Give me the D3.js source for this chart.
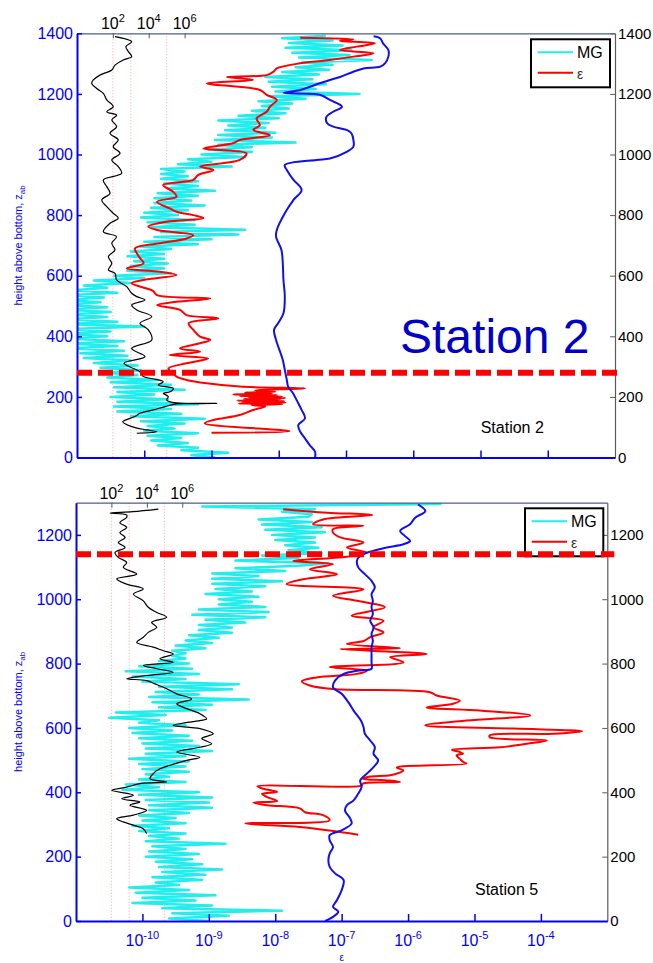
<!DOCTYPE html>
<html>
<head>
<meta charset="utf-8">
<script src="https://cdn.jsdelivr.net/npm/d3@7"></script>
<style>
  body { margin: 0; background: #fff; }
  svg { display: block; font-family: Arial, "Liberation Sans", sans-serif; }
</style>
</head>
<body>
<svg id="chart" width="653" height="963"></svg>
<script>
// ---------------------------------------------------------------
// Profiles against height above bottom (m). Dissipation-type series
// are stored as log10 of the value; the ratio series as log10 too.
// ---------------------------------------------------------------

// Axis settings
const epsDomain = [1e-11, 1e-3];          // bottom axis (epsilon)
const ratioDomain = [1e0, 1e30];          // top axis (black profile)
const epsTickExp = [-10, -9, -8, -7, -6, -5, -4];
const ratioTickExp = [2, 4, 6];
const refLevels = [1e2, 1e3, 1e5];        // dotted reference levels on top axis
const st2HeightTicks = [0, 200, 400, 600, 800, 1000, 1200, 1400];
const st5HeightTicks = [0, 200, 400, 600, 800, 1000, 1200];
const boundaryHeights = [280, 1140];      // dashed marker height per station
const seriesNames = ["MG", "\u03b5"];

// ---------------- Station 2 ----------------
const st2Mg = [
[0,-8.95],[8,-9.30],[16,-8.75],[24,-9.45],[32,-9.20],[40,-9.80],[48,-9.35],[56,-9.90],[64,-9.45],[72,-9.95],
[80,-9.20],[88,-10.00],[96,-9.55],[104,-9.95],[112,-9.40],[120,-10.05],[128,-9.10],[136,-10.20],[144,-9.45],[152,-10.40],
[160,-9.60],[168,-10.45],[176,-9.20],[184,-10.40],[192,-9.65],[200,-10.50],[208,-9.85],[216,-10.40],[224,-9.40],[232,-10.45],
[240,-9.60],[248,-10.50],[256,-9.80],[264,-10.55],[272,-10.10],[280,-10.60],[288,-10.05],[296,-10.65],[304,-10.10],[312,-10.75],
[320,-10.20],[328,-10.90],[336,-10.25],[344,-10.95],[352,-10.30],[360,-11.10],[368,-10.40],[376,-11.15],[384,-10.30],[392,-11.10],
[400,-10.55],[408,-11.20],[416,-10.50],[424,-11.10],[432,-10.00],[440,-11.20],[448,-10.40],[456,-11.15],[464,-10.55],[472,-11.10],
[480,-10.50],[488,-11.20],[496,-10.55],[504,-11.15],[512,-10.65],[520,-11.20],[528,-10.60],[536,-11.10],[544,-10.40],[552,-11.05],
[560,-10.55],[568,-10.90],[576,-10.20],[584,-10.75],[592,-10.00],[600,-10.45],[608,-9.60],[616,-10.25],[624,-9.70],[632,-10.20],
[640,-9.65],[648,-10.15],[656,-9.70],[664,-10.25],[672,-9.70],[680,-10.20],[688,-9.60],[696,-10.05],[704,-9.20],[712,-10.00],
[720,-9.00],[728,-9.85],[736,-8.60],[744,-9.75],[752,-8.50],[760,-9.90],[768,-9.25],[776,-9.95],[784,-9.25],[792,-10.05],
[800,-9.50],[808,-10.00],[816,-9.35],[824,-9.90],[832,-9.10],[840,-9.85],[848,-9.30],[856,-9.85],[864,-9.20],[872,-9.80],
[880,-8.95],[888,-9.65],[896,-9.20],[904,-9.70],[912,-9.20],[920,-9.75],[928,-9.35],[936,-9.75],[944,-9.40],[952,-9.75],
[960,-8.70],[968,-9.50],[976,-9.00],[984,-9.35],[992,-8.50],[1000,-9.15],[1008,-8.40],[1016,-9.05],[1024,-8.40],[1032,-8.90],
[1040,-7.75],[1048,-8.95],[1056,-8.10],[1064,-8.90],[1072,-8.05],[1080,-8.80],[1088,-8.20],[1096,-8.75],[1104,-8.15],[1112,-8.90],
[1120,-8.00],[1128,-8.60],[1136,-7.90],[1144,-8.40],[1152,-7.85],[1160,-8.25],[1168,-7.80],[1176,-8.30],[1184,-7.60],[1192,-8.15],
[1200,-6.80],[1208,-8.05],[1216,-7.45],[1224,-8.10],[1232,-7.30],[1240,-8.15],[1248,-7.50],[1256,-8.20],[1264,-7.40],[1272,-7.95],
[1280,-7.25],[1288,-7.75],[1296,-7.20],[1304,-7.65],[1312,-6.62],[1320,-7.70],[1328,-6.95],[1336,-7.80],[1344,-6.92],[1352,-7.90],
[1360,-7.05],[1368,-7.85],[1376,-7.20],[1384,-7.95],[1392,-7.30]
];

const st2Eps = [
[82,-9.00],[87,-7.84],[113,-9.10],[124,-8.97],[140,-8.58],[157,-8.38],[168,-8.20],[173,-8.40],[176,-7.95],[178,-8.60],
[181,-7.90],[183,-8.55],[186,-7.92],[188,-8.62],[191,-7.98],[193,-8.52],[196,-7.90],[198,-8.45],[201,-7.95],[203,-8.58],
[206,-8.02],[208,-8.68],[211,-8.10],[214,-8.50],[217,-8.05],[221,-8.35],[225,-8.00],[228,-7.61],[234,-8.58],[245,-9.07],
[256,-9.37],[267,-9.52],[278,-9.57],[294,-9.64],[311,-9.37],[327,-9.05],[338,-9.62],[349,-9.17],[360,-9.47],[377,-9.17],
[388,-9.02],[399,-9.17],[421,-9.27],[443,-9.34],[459,-8.90],[470,-9.37],[487,-9.47],[503,-9.81],[514,-9.52],[525,-9.02],
[536,-9.81],[550,-9.87],[575,-10.19],[586,-10.01],[602,-9.52],[613,-9.77],[624,-10.26],[641,-10.01],[657,-10.06],[674,-10.11],
[690,-10.14],[707,-9.77],[723,-9.37],[734,-9.27],[751,-9.81],[762,-9.94],[778,-9.67],[790,-9.12],[800,-9.27],[811,-9.52],
[822,-9.62],[844,-9.81],[861,-9.52],[877,-9.57],[899,-9.72],[916,-9.27],[932,-9.20],[949,-8.97],[960,-9.17],[982,-8.58],
[1004,-8.48],[1020,-9.12],[1037,-8.68],[1048,-8.58],[1064,-8.13],[1081,-8.38],[1097,-8.28],[1119,-8.33],[1141,-8.18],[1158,-8.13],
[1180,-8.03],[1197,-8.18],[1213,-8.28],[1235,-9.07],[1246,-8.38],[1256,-8.77],[1262,-8.18],[1273,-8.08],[1284,-8.03],[1301,-7.68],
[1312,-7.24],[1323,-6.89],[1334,-6.59],[1345,-7.09],[1356,-6.84],[1367,-6.57],[1375,-7.09],[1380,-6.89],[1385,-7.68]
];

const st2Blue = [
[0,-7.46],[19,-7.46],[41,-7.54],[63,-7.61],[85,-7.68],[107,-7.71],[129,-7.61],[157,-7.66],[179,-7.71],[213,-7.79],
[234,-7.86],[256,-7.88],[289,-7.91],[322,-7.94],[388,-8.04],[421,-8.07],[443,-8.01],[476,-7.93],[531,-7.91],[586,-7.93],
[641,-7.94],[685,-7.96],[729,-8.04],[750,-8.03],[806,-7.91],[850,-7.78],[883,-7.66],[916,-7.78],[949,-7.88],[965,-7.91],
[982,-7.44],[987,-7.24],[1009,-6.99],[1026,-6.89],[1048,-6.89],[1070,-6.92],[1081,-6.99],[1092,-7.19],[1103,-7.28],[1125,-7.29],
[1141,-7.19],[1158,-7.06],[1180,-7.24],[1197,-7.39],[1203,-7.93],[1213,-7.68],[1235,-7.39],[1246,-7.24],[1256,-7.09],[1273,-6.89],
[1284,-6.74],[1290,-6.49],[1301,-6.42],[1323,-6.37],[1345,-6.37],[1367,-6.45],[1383,-6.49],[1390,-6.59]
];

const st2Ratio = [
[80,3.33],[85,4.45],[91,3.89],[102,3.05],[118,2.55],[135,3.23],[146,3.51],[157,4.26],[168,4.91],[177,5.55],
[178.5,7.79],[180,5.50],[190,5.00],[201,5.09],[212,4.81],[217,5.19],[228,5.37],[239,4.53],[250,4.81],[258,4.40],
[267,3.70],[283,3.51],[294,3.14],[311,2.62],[333,3.79],[360,3.05],[388,4.17],[421,3.98],[443,3.51],[465,4.17],
[487,3.33],[503,3.05],[520,3.79],[531,3.33],[542,3.05],[564,2.77],[586,2.21],[608,2.12],[619,1.75],[641,1.94],
[663,1.75],[685,2.12],[707,1.94],[729,2.20],[745,1.47],[773,1.84],[790,2.30],[806,2.02],[828,1.66],[850,1.38],
[872,1.84],[894,1.66],[916,1.47],[938,2.49],[960,2.30],[982,1.94],[1004,2.40],[1026,2.02],[1048,2.30],[1070,1.84],
[1092,2.21],[1114,1.94],[1130,2.21],[1141,1.66],[1158,2.02],[1180,1.66],[1202,1.47],[1218,1.10],[1235,0.82],[1246,0.91],
[1262,1.28],[1279,1.94],[1295,2.12],[1312,2.58],[1323,3.05],[1340,2.86],[1356,2.73],[1372,3.05],[1389,2.12]
];

// ---------------- Station 5 ----------------
const st5Mg = [
[0,-9.00],[8,-9.60],[16,-8.70],[24,-9.55],[32,-7.90],[40,-9.70],[48,-8.95],[56,-10.15],[64,-9.20],[72,-10.00],
[80,-8.90],[88,-10.10],[96,-9.30],[104,-10.20],[112,-9.45],[120,-9.80],[128,-9.10],[136,-9.85],[144,-9.05],[152,-9.70],
[160,-8.80],[168,-9.75],[176,-9.10],[184,-9.80],[192,-9.25],[200,-9.95],[208,-9.15],[216,-9.90],[224,-9.35],[232,-9.85],
[240,-8.75],[248,-9.95],[256,-9.45],[264,-9.90],[272,-9.35],[280,-10.05],[288,-9.60],[296,-10.15],[304,-9.35],[312,-10.00],
[320,-9.50],[328,-10.05],[336,-9.30],[344,-9.90],[352,-8.95],[360,-9.90],[368,-9.00],[376,-9.95],[384,-8.95],[392,-10.05],
[400,-9.15],[408,-10.30],[416,-9.75],[424,-10.25],[432,-9.35],[440,-10.05],[448,-9.60],[456,-9.95],[464,-9.30],[472,-10.00],
[480,-9.35],[488,-10.05],[496,-9.30],[504,-10.20],[512,-9.35],[520,-9.95],[528,-8.95],[536,-9.95],[544,-9.15],[552,-10.00],
[560,-9.25],[568,-10.05],[576,-9.30],[584,-10.15],[592,-9.55],[600,-10.20],[608,-9.35],[616,-10.05],[624,-9.75],[632,-10.50],
[640,-9.65],[648,-10.40],[656,-9.05],[664,-9.75],[672,-8.95],[680,-9.85],[688,-8.40],[696,-9.90],[704,-9.15],[712,-9.80],
[720,-8.65],[728,-9.75],[736,-8.55],[744,-10.00],[752,-9.35],[760,-10.15],[768,-9.15],[776,-10.25],[784,-9.25],[792,-10.05],
[800,-9.30],[808,-9.75],[816,-9.35],[824,-9.55],[832,-9.35],[840,-9.55],[848,-9.05],[856,-9.50],[864,-8.95],[872,-9.35],
[880,-8.85],[888,-9.30],[896,-8.65],[904,-9.15],[912,-8.65],[920,-9.15],[928,-8.45],[936,-9.05],[944,-8.15],[952,-9.25],
[960,-8.10],[968,-9.15],[976,-8.15],[984,-8.85],[992,-8.35],[1000,-8.85],[1008,-8.25],[1016,-9.05],[1024,-8.35],[1032,-8.90],
[1040,-8.15],[1048,-8.95],[1056,-7.90],[1064,-8.95],[1072,-8.25],[1080,-8.95],[1088,-7.85],[1096,-8.60],[1104,-7.65],[1112,-7.20],
[1120,-8.60],[1128,-7.65],[1136,-8.20],[1144,-7.30],[1152,-7.80],[1160,-7.35],[1168,-7.85],[1176,-7.40],[1184,-8.00],[1192,-7.40],
[1200,-8.05],[1208,-7.25],[1216,-8.15],[1224,-7.30],[1232,-8.20],[1240,-7.45],[1248,-8.25],[1256,-7.50],[1264,-7.45],[1272,-7.90],
[1280,-7.40],[1288,-9.10],[1296,-5.50]
];

const st5Eps = [
[268,-6.75],[281,-7.18],[292,-7.63],[303,-8.45],[313,-7.18],[329,-7.28],[338,-7.55],[350,-7.63],[360,-8.12],[368,-8.33],
[373,-7.97],[385,-8.12],[395,-8.20],[401,-7.97],[411,-8.18],[419,-8.27],[421,-6.70],[427,-6.68],[432,-6.12],[437,-6.32],
[442,-6.68],[447,-6.62],[453,-6.27],[458,-6.17],[468,-6.07],[477,-6.17],[489,-5.12],[494,-5.17],[504,-5.22],[515,-5.27],
[520,-5.17],[525,-5.22],[532,-5.34],[540,-4.61],[551,-4.21],[561,-3.91],[571,-4.77],[577,-4.77],[582,-3.81],[590,-3.38],
[598,-4.41],[608,-5.74],[623,-5.12],[639,-4.16],[654,-4.92],[664,-5.72],[675,-5.32],[685,-5.22],[701,-5.57],[711,-5.67],
[721,-7.13],[732,-7.48],[745,-7.60],[757,-7.38],[768,-6.77],[778,-6.62],[789,-7.18],[804,-6.07],[820,-6.27],[830,-5.72],
[845,-7.02],[848,-6.12],[861,-6.92],[870,-6.67],[882,-6.57],[897,-6.37],[913,-6.52],[933,-6.37],[949,-6.85],[975,-6.35],
[995,-6.77],[1011,-7.13],[1031,-6.67],[1047,-7.83],[1062,-7.58],[1078,-7.07],[1093,-7.48],[1109,-7.13],[1119,-7.73],[1132,-6.92],
[1145,-6.62],[1161,-6.92],[1176,-6.67],[1192,-7.02],[1207,-7.13],[1218,-7.13],[1228,-6.67],[1233,-7.43],[1248,-7.28],[1262,-6.54],
[1269,-7.22],[1280,-7.88]
];

const st5Blue = [
[0,-7.25],[13,-7.13],[29,-7.05],[44,-7.13],[65,-7.07],[96,-7.00],[127,-6.97],[148,-7.10],[168,-7.18],[189,-7.20],
[210,-7.18],[230,-7.13],[251,-7.18],[267,-7.18],[282,-7.00],[303,-6.85],[318,-6.87],[344,-6.95],[360,-6.92],[375,-6.82],
[396,-6.75],[416,-6.70],[437,-6.72],[458,-6.62],[478,-6.52],[499,-6.45],[520,-6.52],[540,-6.50],[561,-6.57],[582,-6.65],
[602,-6.67],[623,-6.71],[654,-6.82],[680,-6.90],[706,-7.00],[726,-7.13],[747,-7.10],[768,-6.97],[778,-6.77],[784,-6.55],
[804,-6.55],[830,-6.55],[851,-6.55],[871,-6.53],[892,-6.55],[913,-6.52],[933,-6.57],[954,-6.53],[975,-6.55],[995,-6.53],
[1016,-6.55],[1037,-6.50],[1057,-6.55],[1078,-6.65],[1099,-6.75],[1119,-6.77],[1135,-6.72],[1148,-6.57],[1161,-6.32],[1171,-6.07],
[1181,-5.97],[1197,-6.05],[1212,-6.12],[1233,-5.97],[1254,-5.89],[1274,-5.74],[1295,-5.85]
];

const st5Ratio = [
[272,3.99],[287,3.80],[298,3.24],[308,2.67],[318,2.30],[329,3.24],[344,3.99],[360,3.05],[370,3.61],[380,2.58],
[391,3.24],[406,2.02],[416,2.86],[427,3.61],[432,5.12],[442,4.18],[458,4.36],[473,4.74],[484,5.31],[499,6.25],
[509,7.00],[525,5.69],[540,7.00],[551,7.66],[567,7.10],[582,7.75],[598,7.00],[608,5.49],[623,7.00],[628,7.38],
[644,7.00],[664,6.06],[675,5.69],[690,6.53],[706,5.69],[722,5.12],[737,4.46],[747,3.99],[753,2.86],[763,3.99],
[773,5.49],[784,4.56],[794,3.80],[804,5.49],[815,4.74],[830,5.49],[840,4.93],[851,4.36],[866,3.43],[882,3.80],
[897,4.08],[913,4.56],[928,4.27],[944,5.12],[959,4.56],[975,4.08],[995,3.80],[1016,3.24],[1032,3.80],[1047,2.86],
[1063,2.30],[1078,3.43],[1099,2.67],[1114,2.86],[1130,2.39],[1145,2.20],[1161,2.77],[1176,2.39],[1192,2.77],[1207,2.48],
[1223,2.86],[1238,2.48],[1254,2.86],[1262,2.86],[1268,1.92],[1272,3.20],[1280,4.65]
];

// ---------------------------------------------------------------
const svg = d3.select("#chart");
const AXIS_BLUE = "#0000ff";
const MG_COLOR = "#22eeee";
const EPS_COLOR = "#ff0000";
const PROFILE_BLUE = "#1010ee";
const FRAME_GRAY = "#5a5a5a";
const intFormat = d3.format("d");

const panels = [
  { id: "s2", label: "Station 2", left: 77, right: 615, top: 33.3, bottom: 457.5, zMax: 1400,
    zTicks: st2HeightTicks, mg: st2Mg, eps: st2Eps, blue: st2Blue, ratio: st2Ratio,
    boundary: boundaryHeights[0], epsLabels: false, bigTitle: true,
    legend: { x: 531, y: 39.3, w: 79, h: 48 }, note: { x: 480.7, y: 433.3 } },
  { id: "s5", label: "Station 5", left: 76, right: 607.3, top: 502.7, bottom: 921, zMax: 1300,
    zTicks: st5HeightTicks, mg: st5Mg, eps: st5Eps, blue: st5Blue, ratio: st5Ratio,
    boundary: boundaryHeights[1], epsLabels: true, bigTitle: false,
    legend: { x: 525, y: 508.3, w: 78.3, h: 48 }, note: { x: 475, y: 895 } }
];

function powerLabels(g, exps, xPos, yBase, color) {
  const t = g.selectAll(null).data(exps).join("text")
    .attr("x", d => xPos(d)).attr("y", yBase)
    .attr("text-anchor", "middle").attr("fill", color).attr("font-size", 16);
  t.append("tspan").text("10");
  t.append("tspan").attr("dy", -7).attr("font-size", 11).text(d => String(d));
}

panels.forEach(p => {
  const g = svg.append("g");
  const x = d3.scaleLog().domain(epsDomain).range([p.left, p.right]);
  const xTop = d3.scaleLog().domain(ratioDomain).range([p.left, p.right]);
  const y = d3.scaleLinear().domain([0, p.zMax]).range([p.bottom, p.top]);

  svg.append("clipPath").attr("id", "clip-" + p.id).append("rect")
    .attr("x", p.left).attr("y", p.top)
    .attr("width", p.right - p.left).attr("height", p.bottom - p.top);

  const plot = g.append("g").attr("clip-path", `url(#clip-${p.id})`);

  // dotted reference levels (top-axis units)
  plot.selectAll(null).data(refLevels).join("line")
    .attr("x1", d => xTop(d)).attr("x2", d => xTop(d))
    .attr("y1", p.top).attr("y2", p.bottom)
    .attr("stroke", "#ff8c8c").attr("stroke-width", 0.8).attr("stroke-dasharray", "1,2");

  const epsLine = d3.line().x(d => x(Math.pow(10, d[1]))).y(d => y(d[0]));
  const smoothEps = d3.line().x(d => x(Math.pow(10, d[1]))).y(d => y(d[0]))
    .curve(d3.curveCatmullRom.alpha(0.5));
  const ratioLine = d3.line().x(d => xTop(Math.pow(10, d[1]))).y(d => y(d[0]))
    .curve(d3.curveCatmullRom.alpha(0.5));

  plot.append("path").datum(p.mg).attr("d", epsLine)
    .attr("fill", "none").attr("stroke", MG_COLOR).attr("stroke-width", 2.5)
    .attr("stroke-linejoin", "round");
  plot.append("path").datum(p.ratio).attr("d", ratioLine)
    .attr("fill", "none").attr("stroke", "#000").attr("stroke-width", 1.2);
  plot.append("path").datum(p.eps).attr("d", smoothEps)
    .attr("fill", "none").attr("stroke", EPS_COLOR).attr("stroke-width", 2)
    .attr("stroke-linejoin", "round");
  plot.append("path").datum(p.blue).attr("d", smoothEps)
    .attr("fill", "none").attr("stroke", PROFILE_BLUE).attr("stroke-width", 2);

  // frame: top (ratio axis) and right (height, black)
  const topAxis = d3.axisTop(xTop).tickValues(ratioTickExp.map(e => Math.pow(10, e)))
    .tickSize(-5).tickSizeOuter(0).tickFormat(() => "");
  const gTop = g.append("g").attr("transform", `translate(0,${p.top})`).call(topAxis);
  gTop.select(".domain").attr("stroke", "#4b5f8a").attr("stroke-width", 1.2);
  gTop.selectAll(".tick line").attr("stroke", FRAME_GRAY);
  powerLabels(g, ratioTickExp, e => xTop(Math.pow(10, e)), p.top - 4, "#000");

  const rightAxis = d3.axisRight(y).tickValues(p.zTicks).tickSize(-5).tickSizeOuter(0)
    .tickPadding(3).tickFormat(intFormat);
  const gRight = g.append("g").attr("transform", `translate(${p.right},0)`).call(rightAxis);
  gRight.select(".domain").attr("stroke", FRAME_GRAY).attr("stroke-width", 1.2);
  gRight.selectAll(".tick line").attr("stroke", FRAME_GRAY);
  gRight.selectAll(".tick text").attr("fill", "#000").attr("font-size", 15)
    .attr("font-family", "Arial, 'Liberation Sans', sans-serif");

  // blue axes: left (height) and bottom (epsilon)
  const leftAxis = d3.axisLeft(y).tickValues(p.zTicks).tickSize(-5).tickSizeOuter(0)
    .tickPadding(4).tickFormat(intFormat);
  const gLeft = g.append("g").attr("transform", `translate(${p.left},0)`).call(leftAxis);
  gLeft.select(".domain").attr("stroke", AXIS_BLUE).attr("stroke-width", 2);
  gLeft.selectAll(".tick line").attr("stroke", AXIS_BLUE).attr("stroke-width", 1.5);
  gLeft.selectAll(".tick text").attr("fill", AXIS_BLUE).attr("font-size", 16)
    .attr("font-family", "Arial, 'Liberation Sans', sans-serif");

  const bottomAxis = d3.axisBottom(x).tickValues(epsTickExp.map(e => Math.pow(10, e)))
    .tickSize(-7).tickSizeOuter(0).tickFormat(() => "");
  const gBottom = g.append("g").attr("transform", `translate(0,${p.bottom})`).call(bottomAxis);
  gBottom.select(".domain").attr("stroke", AXIS_BLUE).attr("stroke-width", 2);
  gBottom.selectAll(".tick line").attr("stroke", AXIS_BLUE).attr("stroke-width", 1.5);
  if (p.epsLabels) {
    powerLabels(g, epsTickExp, e => x(Math.pow(10, e)), p.bottom + 25, AXIS_BLUE);
    g.append("text").attr("x", (p.left + p.right) / 2).attr("y", p.bottom + 40)
      .attr("text-anchor", "middle").attr("fill", AXIS_BLUE).attr("font-size", 10)
      .text("\u03b5");
  }

  // y-axis title
  const yt = g.append("text")
    .attr("transform", `translate(22,${(p.top + p.bottom) / 2}) rotate(-90)`)
    .attr("text-anchor", "middle").attr("fill", AXIS_BLUE).attr("font-size", 11);
  yt.append("tspan").text("height above bottom, z");
  yt.append("tspan").attr("dy", 3).attr("font-size", 8).text("ab");

  // station annotations
  if (p.bigTitle) {
    g.append("text").attr("x", 400).attr("y", 352.7).attr("fill", "#0000c8")
      .attr("font-size", 48).text(p.label);
  }
  g.append("text").attr("x", p.note.x).attr("y", p.note.y).attr("fill", "#000")
    .attr("font-size", 16).text(p.label);

  // legend
  const L = p.legend;
  const lg = g.append("g");
  lg.append("rect").attr("x", L.x).attr("y", L.y).attr("width", L.w).attr("height", L.h)
    .attr("fill", "#fff").attr("stroke", "#000").attr("stroke-width", 2);
  const rows = [{ name: seriesNames[0], color: MG_COLOR, dy: 13, size: 16, fill: "#000" },
                { name: seriesNames[1], color: EPS_COLOR, dy: 33.4, size: 14, fill: "#333" }];
  rows.forEach(r => {
    lg.append("line").attr("x1", L.x + 6.7).attr("x2", L.x + 42)
      .attr("y1", L.y + r.dy).attr("y2", L.y + r.dy)
      .attr("stroke", r.color).attr("stroke-width", 2);
    lg.append("text").attr("x", L.x + 46).attr("y", L.y + r.dy + 6)
      .attr("font-size", r.size).attr("fill", r.fill).text(r.name);
  });

  // dashed marker height
  g.append("line").attr("x1", p.left).attr("x2", p.right + 7)
    .attr("y1", y(p.boundary)).attr("y2", y(p.boundary))
    .attr("stroke", EPS_COLOR).attr("stroke-width", 6).attr("stroke-dasharray", "15,6");
});
</script>
</body>
</html>
